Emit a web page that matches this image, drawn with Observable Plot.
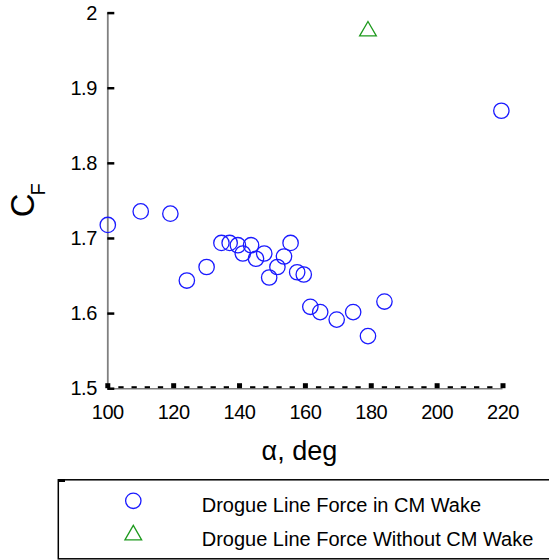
<!DOCTYPE html>
<html>
<head>
<meta charset="utf-8">
<script src="https://cdn.jsdelivr.net/npm/d3@7"></script>
<script src="https://cdn.jsdelivr.net/npm/@observablehq/plot@0.6"></script>
<style>
  html, body { margin: 0; padding: 0; background: white; overflow: hidden; }
  #wrap { position: relative; width: 549px; height: 560px; overflow: hidden; font-family: "Liberation Sans", Arial, sans-serif; }
  #chart svg { display: block; }
  #legend { position: absolute; left: 0; top: 479px; }
  g[aria-label="y-axis tick label"] text, g[aria-label="x-axis tick label"] text { letter-spacing: -0.5px; }
</style>
</head>
<body>
<div id="wrap">
  <div id="chart"></div>
  <svg id="legend" width="549" height="81"></svg>
</div>
<script>
// ---- data ----
const alphaWake = [100, 110, 119, 124, 130, 134.5, 137, 139.5, 141, 143.5, 145, 147.5, 149, 151.5, 153.5, 155.5, 157.5, 159.5, 161.5, 164.5, 169.5, 174.5, 179, 184, 219.5];
const cfWake    = [1.718, 1.736, 1.733, 1.644, 1.662, 1.694, 1.694, 1.691, 1.680, 1.691, 1.673, 1.680, 1.648, 1.662, 1.676, 1.694, 1.655, 1.652, 1.609, 1.602, 1.592, 1.602, 1.570, 1.616, 1.870];
const alphaNoWake = [179];
const cfNoWake    = [1.976];
const seriesNames = ["Drogue Line Force in CM Wake", "Drogue Line Force Without CM Wake"];
const xTicks = [100, 120, 140, 160, 180, 200, 220];
const xMinorTicks = [104, 108, 112, 116, 124, 128, 132, 136, 144, 148, 152, 156, 164, 168, 172, 176, 184, 188, 192, 196, 204, 208, 212, 216];
const yTicks = [1.5, 1.6, 1.7, 1.8, 1.9, 2];
const xLabel = "α, deg";
const yLabelMain = "C";
const yLabelSub = "F";

const wake = alphaWake.map((a, i) => ({alpha: a, cf: cfWake[i]}));
const noWake = alphaNoWake.map((a, i) => ({alpha: a, cf: cfNoWake[i]}));

const blue = "#1a1aff";
const green = "#1e9a1e";

const chart = Plot.plot({
  width: 549,
  height: 479,
  marginLeft: 107.3,
  marginRight: 46.5,
  marginTop: 12.6,
  marginBottom: 90.8,
  x: {domain: [100, 220]},
  y: {domain: [1.5, 2]},
  style: {fontFamily: "'Liberation Sans', Arial, sans-serif", color: "black", background: "white", overflow: "visible"},
  marks: [
    Plot.ruleX([100], {stroke: "#808080", strokeWidth: 1.8}),
    Plot.ruleY([1.5], {stroke: "#808080", strokeWidth: 1.5}),
    Plot.axisX(xMinorTicks, {tickSize: 2, dy: -2, strokeWidth: 5.3, fill: "none", label: null, stroke: "black"}),
    Plot.axisX(xTicks, {tickSize: 5, dy: -5, strokeWidth: 5, fill: "none", label: null, stroke: "black"}),
    Plot.axisX(xTicks, {tickSize: 0, tickPadding: 16, fontSize: 20, label: null, tickFormat: d => String(d)}),
    Plot.axisY(yTicks, {tickSize: 7, dx: 7, strokeWidth: 2.5, fill: "none", label: null, stroke: "black"}),
    Plot.axisY(yTicks, {tickSize: 0, tickPadding: 11, fontSize: 20, label: null, tickFormat: d => String(d)}),
    Plot.text([xLabel], {frameAnchor: "bottom", textAnchor: "middle", lineAnchor: "middle", dy: 63, dx: -6, fontSize: 27}),
    Plot.text([yLabelMain], {frameAnchor: "left", textAnchor: "middle", lineAnchor: "middle", rotate: -90, dx: -84.5, dy: 4.5, fontSize: 33}),
    Plot.text([yLabelSub], {frameAnchor: "left", textAnchor: "middle", lineAnchor: "middle", rotate: -90, dx: -68.8, dy: -11.4, fontSize: 20}),
    Plot.dot(wake, {x: "alpha", y: "cf", r: 7.7, stroke: blue, strokeWidth: 1.3, fill: "none"}),
    Plot.dot(noWake, {x: "alpha", y: "cf", r: 6.2, symbol: d3.symbolTriangle, stroke: green, strokeWidth: 1.3, fill: "none"})
  ]
});
document.getElementById("chart").appendChild(chart);

// ---- legend ----
const lg = d3.select("#legend");
lg.append("rect").attr("x", 58.3).attr("y", 0.8).attr("width", 520).attr("height", 79)
  .attr("fill", "white").attr("stroke", "black").attr("stroke-width", 1.5);
lg.append("rect").attr("x", 58).attr("y", 0).attr("width", 7).attr("height", 3).attr("fill", "black");
const rows = [
  {name: seriesNames[0], symbol: d3.symbolCircle, size: Math.PI * 7.7 * 7.7, color: blue, my: 21.8, ty: 32.7},
  {name: seriesNames[1], symbol: d3.symbolTriangle, size: Math.PI * 6.2 * 6.2, color: green, my: 56, ty: 67}
];
rows.forEach(r => {
  lg.append("path").attr("d", d3.symbol(r.symbol, r.size)())
    .attr("transform", `translate(133.3,${r.my})`)
    .attr("fill", "none").attr("stroke", r.color).attr("stroke-width", 1.3);
  lg.append("text").attr("x", 201.7).attr("y", r.ty)
    .attr("font-family", "'Liberation Sans', Arial, sans-serif").attr("font-size", 20)
    .attr("fill", "black").text(r.name);
});
</script>
</body>
</html>
